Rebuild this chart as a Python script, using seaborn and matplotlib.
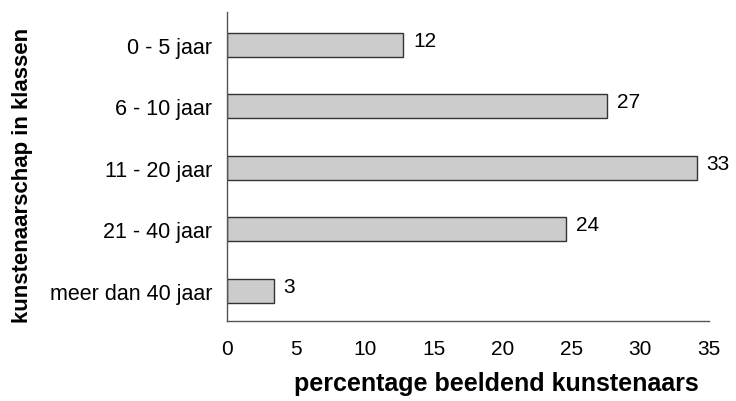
import matplotlib
matplotlib.use("Agg")
import matplotlib.pyplot as plt
import seaborn as sns
import pandas as pd

categories = ["0 - 5 jaar", "6 - 10 jaar", "11 - 20 jaar", "21 - 40 jaar", "meer dan 40 jaar"]
values = [12.8, 27.6, 34.1, 24.6, 3.4]
value_labels = ["12", "27", "33", "24", "3"]
x_ticks = [0, 5, 10, 15, 20, 25, 30, 35]

sns.set_theme(style="white")
plt.rcParams['font.family'] = ['Liberation Sans', 'DejaVu Sans']

df = pd.DataFrame({"klasse": categories, "pct": values})

fig = plt.figure(figsize=(7.36, 4.02), dpi=100)
ax = fig.add_axes([227.3/736, 1-322/402, (709-227.3)/736, (322-13)/402])

sns.barplot(data=df, x="pct", y="klasse", orient="h", color="#cccccc",
            edgecolor="#333333", linewidth=1.0, width=0.39, saturation=1, ax=ax)

for i, (v, lab) in enumerate(zip(values, value_labels)):
    ax.text(v + 0.7, i - 0.07, lab, va="center", ha="left", fontsize=15, color="black")

ax.set_xlim(0, 35)
ax.set_ylim(4.49, -0.53)
ax.set_xticks(x_ticks)
ax.set_xticklabels([str(t) for t in x_ticks], fontsize=15)
ax.tick_params(axis="x", direction="in", length=6, width=1, color="#555555", pad=13, labelcolor="black")
ax.tick_params(axis="y", length=0, pad=11, labelsize=15.5, labelcolor="black")

for s in ["top", "right"]:
    ax.spines[s].set_visible(False)
for s in ["left", "bottom"]:
    ax.spines[s].set_color("#555555")
    ax.spines[s].set_linewidth(1.0)

ax.set_xlabel("percentage beeldend kunstenaars", fontsize=18, fontweight="bold", color="black")
ax.set_ylabel("kunstenaarschap in klassen", fontsize=16, fontweight="bold", color="black")
ax.xaxis.set_label_coords((496 - 227.3) / 481.7, -(372 - 322) / 309)
ax.yaxis.set_label_coords((33 - 227.3) / 481.7, (322 - 175) / 309)

fig.savefig("out.png", dpi=100)
